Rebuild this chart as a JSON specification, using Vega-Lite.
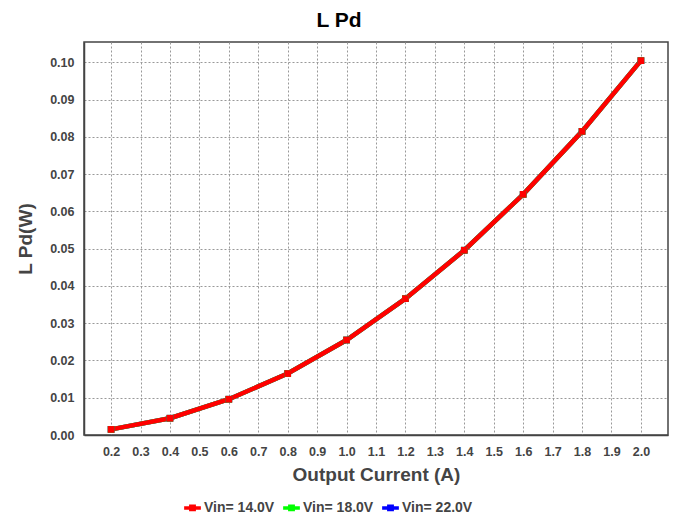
{
  "$schema": "https://vega.github.io/schema/vega-lite/v6.json",
  "autosize": "none",
  "padding": {"left": 84, "top": 42, "right": 10, "bottom": 80},
  "width": 584,
  "height": 393,
  "background": "white",
  "title": {
    "text": "L Pd",
    "font": "Liberation Sans",
    "fontSize": 21,
    "fontWeight": "bold",
    "color": "#000000",
    "anchor": "middle",
    "dx": -37,
    "offset": 11
  },
  "data": {
    "values": [
      {"series": "Vin= 22.0V", "order": 1, "current": 0.2, "pd": 0.0015},
      {"series": "Vin= 22.0V", "order": 1, "current": 0.4, "pd": 0.0045},
      {"series": "Vin= 22.0V", "order": 1, "current": 0.6, "pd": 0.0096},
      {"series": "Vin= 22.0V", "order": 1, "current": 0.8, "pd": 0.0165},
      {"series": "Vin= 22.0V", "order": 1, "current": 1.0, "pd": 0.0255},
      {"series": "Vin= 22.0V", "order": 1, "current": 1.2, "pd": 0.0366},
      {"series": "Vin= 22.0V", "order": 1, "current": 1.4, "pd": 0.0496},
      {"series": "Vin= 22.0V", "order": 1, "current": 1.6, "pd": 0.0646},
      {"series": "Vin= 22.0V", "order": 1, "current": 1.8, "pd": 0.0815},
      {"series": "Vin= 22.0V", "order": 1, "current": 2.0, "pd": 0.1005},
      {"series": "Vin= 18.0V", "order": 2, "current": 0.2, "pd": 0.0015},
      {"series": "Vin= 18.0V", "order": 2, "current": 0.4, "pd": 0.0045},
      {"series": "Vin= 18.0V", "order": 2, "current": 0.6, "pd": 0.0096},
      {"series": "Vin= 18.0V", "order": 2, "current": 0.8, "pd": 0.0165},
      {"series": "Vin= 18.0V", "order": 2, "current": 1.0, "pd": 0.0255},
      {"series": "Vin= 18.0V", "order": 2, "current": 1.2, "pd": 0.0366},
      {"series": "Vin= 18.0V", "order": 2, "current": 1.4, "pd": 0.0496},
      {"series": "Vin= 18.0V", "order": 2, "current": 1.6, "pd": 0.0646},
      {"series": "Vin= 18.0V", "order": 2, "current": 1.8, "pd": 0.0815},
      {"series": "Vin= 18.0V", "order": 2, "current": 2.0, "pd": 0.1005},
      {"series": "Vin= 14.0V", "order": 3, "current": 0.2, "pd": 0.0015},
      {"series": "Vin= 14.0V", "order": 3, "current": 0.4, "pd": 0.0045},
      {"series": "Vin= 14.0V", "order": 3, "current": 0.6, "pd": 0.0096},
      {"series": "Vin= 14.0V", "order": 3, "current": 0.8, "pd": 0.0165},
      {"series": "Vin= 14.0V", "order": 3, "current": 1.0, "pd": 0.0255},
      {"series": "Vin= 14.0V", "order": 3, "current": 1.2, "pd": 0.0366},
      {"series": "Vin= 14.0V", "order": 3, "current": 1.4, "pd": 0.0496},
      {"series": "Vin= 14.0V", "order": 3, "current": 1.6, "pd": 0.0646},
      {"series": "Vin= 14.0V", "order": 3, "current": 1.8, "pd": 0.0815},
      {"series": "Vin= 14.0V", "order": 3, "current": 2.0, "pd": 0.1005}
    ]
  },
  "mark": {
    "type": "line",
    "strokeWidth": 4.5,
    "clip": true,
    "point": {"shape": "square", "filled": true, "size": 45, "opacity": 1}
  },
  "encoding": {
    "x": {
      "field": "current",
      "type": "quantitative",
      "scale": {"domain": [0.108, 2.092], "nice": false, "zero": false},
      "axis": {
        "title": "Output Current (A)",
        "values": [0.2, 0.3, 0.4, 0.5, 0.6, 0.7, 0.8, 0.9, 1.0, 1.1, 1.2, 1.3, 1.4, 1.5, 1.6, 1.7, 1.8, 1.9, 2.0],
        "format": ".1f",
        "titlePadding": 8
      }
    },
    "y": {
      "field": "pd",
      "type": "quantitative",
      "scale": {"domain": [0, 0.1055], "nice": false},
      "axis": {
        "title": "L Pd(W)",
        "values": [0, 0.01, 0.02, 0.03, 0.04, 0.05, 0.06, 0.07, 0.08, 0.09, 0.1],
        "format": ".2f",
        "titlePadding": 14
      }
    },
    "color": {
      "field": "series",
      "type": "nominal",
      "scale": {
        "domain": ["Vin= 14.0V", "Vin= 18.0V", "Vin= 22.0V"],
        "range": ["#ff0000", "#00ff00", "#0000ff"]
      },
      "legend": {
        "orient": "none",
        "direction": "horizontal",
        "legendX": 98,
        "legendY": 455,
        "title": null,
        "symbolType": "M-1,0H1M-0.2,-0.2H0.2V0.2H-0.2Z",
        "symbolSize": 280,
        "symbolStrokeWidth": 3.5,
        "labelFont": "Liberation Sans",
        "labelFontSize": 14,
        "labelFontWeight": "bold",
        "labelColor": "#444444",
        "columnPadding": 1,
        "symbolOffset": 0,
        "labelOffset": 1
      }
    },
    "order": {"field": "order", "type": "quantitative"}
  },
  "config": {
    "view": {"stroke": "#444444", "strokeWidth": 1.5},
    "axis": {
      "labelFont": "Liberation Sans",
      "labelFontSize": 12.5,
      "labelFontWeight": "bold",
      "labelColor": "#444444",
      "titleFont": "Liberation Sans",
      "titleFontSize": 19,
      "titleFontWeight": "bold",
      "titleColor": "#444444",
      "ticks": false,
      "domainColor": "#444444",
      "domainWidth": 1.5,
      "grid": true,
      "gridColor": "#999999",
      "gridDash": [2, 2],
      "gridWidth": 1,
      "labelPadding": 10
    }
  }
}
